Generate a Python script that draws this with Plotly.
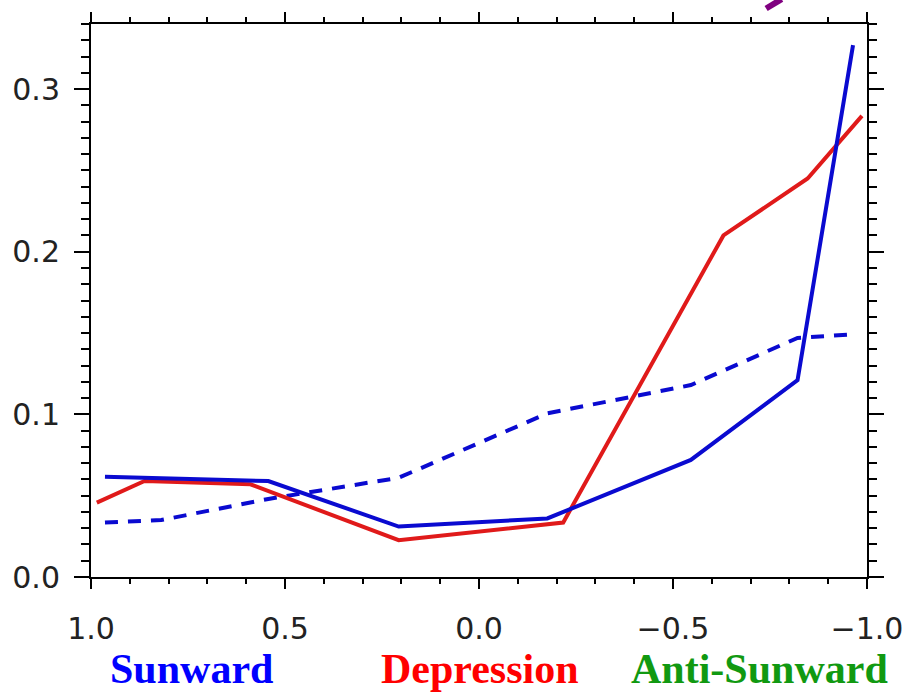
import plotly.graph_objects as go

# Sunward (solid blue)
sun_x = [0.964, 0.543, 0.207, -0.176, -0.546, -0.821, -0.964]
sun_y = [0.0616, 0.059, 0.031, 0.036, 0.072, 0.121, 0.327]

# Depression (solid red)
dep_x = [0.985, 0.862, 0.589, 0.207, -0.217, -0.630, -0.847, -0.987]
dep_y = [0.0457, 0.059, 0.057, 0.0226, 0.0335, 0.210, 0.245, 0.2835]

# dashed blue
dash_x = [0.964, 0.819, 0.543, 0.207, -0.176, -0.546, -0.821, -0.949]
dash_y = [0.0335, 0.035, 0.048, 0.061, 0.1006, 0.118, 0.147, 0.149]

x_ticks = [1.0, 0.5, 0.0, -0.5, -1.0]
x_labels = ["1.0", "0.5", "0.0", "\u22120.5", "\u22121.0"]
y_ticks = [0.0, 0.1, 0.2, 0.3]
y_labels = ["0.0", "0.1", "0.2", "0.3"]

labels = ["Sunward", "Depression", "Anti-Sunward"]
label_colors = ["#0000FF", "#FF0000", "#119911"]

BLUE = "#0a0ad0"
RED = "#e01a1a"

fig = go.Figure()
fig.add_trace(go.Scatter(x=dash_x, y=dash_y, mode="lines",
                         line=dict(color=BLUE, width=4, dash="13px,10px")))
fig.add_trace(go.Scatter(x=dep_x, y=dep_y, mode="lines",
                         line=dict(color=RED, width=4)))
fig.add_trace(go.Scatter(x=sun_x, y=sun_y, mode="lines",
                         line=dict(color=BLUE, width=4)))

tickfont = dict(family="DejaVu Sans", size=30, color="#222222")

fig.update_layout(
    width=915, height=692,
    margin=dict(l=89, r=42, t=20, b=115),
    paper_bgcolor="white", plot_bgcolor="white",
    showlegend=False,
    xaxis=dict(range=[1.0, -1.0], tickvals=x_ticks, ticktext=x_labels,
               showgrid=False, zeroline=False, showline=True, linecolor="black",
               linewidth=2, mirror="ticks", ticks="outside", ticklen=10,
               tickwidth=2, tickcolor="black", tickfont=tickfont,
               ticklabelstandoff=14,
               minor=dict(dtick=0.1, ticks="outside", ticklen=5, tickwidth=1.5,
                          tickcolor="black", showgrid=False)),
    yaxis=dict(range=[0, 0.34], tickvals=y_ticks, ticktext=y_labels,
               showgrid=False, zeroline=False, showline=True, linecolor="black",
               linewidth=2, mirror="ticks", ticks="outside", ticklen=15,
               tickwidth=2, tickcolor="black", tickfont=tickfont,
               ticklabelstandoff=8,
               minor=dict(dtick=0.01, ticks="outside", ticklen=8, tickwidth=1.5,
                          tickcolor="black", showgrid=False)),
)

xs = [0.129, 0.501, 0.862]
for t, c, xp in zip(labels, label_colors, xs):
    fig.add_annotation(text="<b>%s</b>" % t, xref="paper", yref="paper",
                       x=xp, y=-0.121, xanchor="center", yanchor="top",
                       showarrow=False,
                       font=dict(family="Liberation Serif", size=42, color=c))

# cut-off purple fragment at the top edge
fig.add_shape(type="line", xref="paper", yref="paper",
              x0=0.870, y0=1.028, x1=0.890, y1=1.045,
              line=dict(color="#800080", width=6))

fig.write_html("out.html")
